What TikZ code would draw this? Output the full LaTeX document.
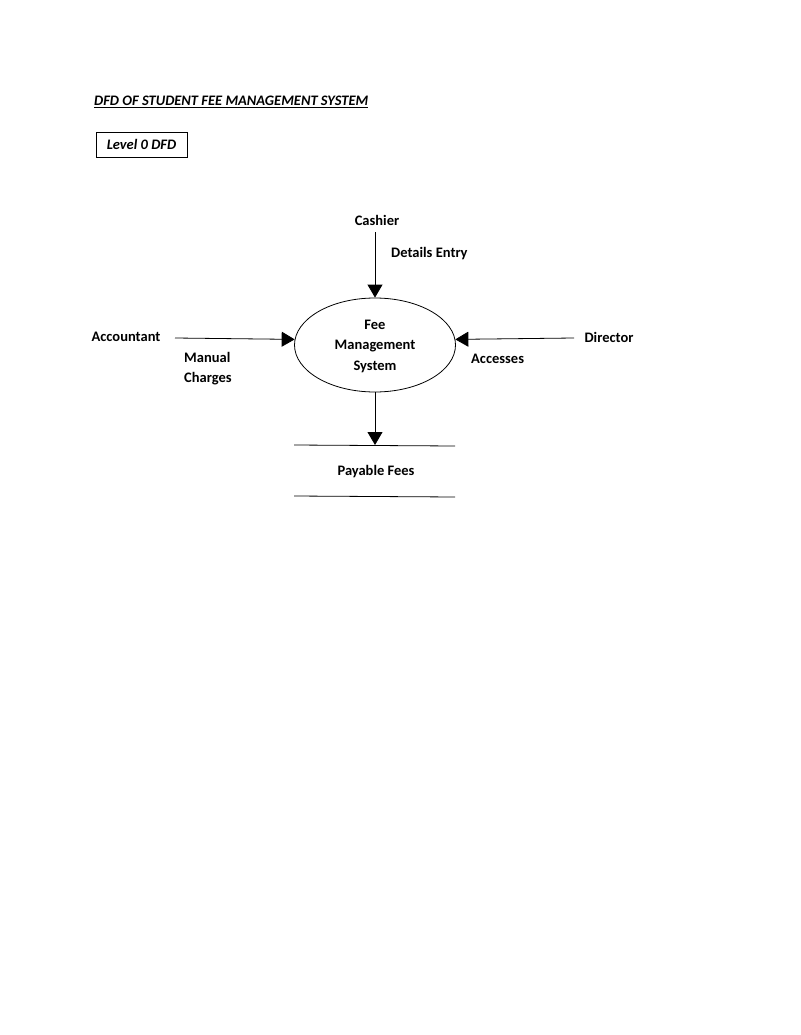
\documentclass[tikz,border=0pt]{standalone}
\usepackage{fontspec}
\setmainfont{Carlito}
\usetikzlibrary{arrows.meta,shapes.geometric}
\begin{document}
\begin{tikzpicture}[x=1pt,y=-1pt,
  lbl/.style={font=\fontsize{14.5}{17}\selectfont\bfseries, inner sep=0pt},
  flow/.style={draw, line width=0.8pt, -{Triangle[length=13pt,width=15pt]}},
  proc/.style={draw, ellipse, line width=0.8pt, minimum width=161pt, minimum height=94pt, inner sep=0pt}]
\useasboundingbox (0,0) rectangle (800,1035);
\node[lbl, font=\fontsize{14.5}{17}\selectfont\bfseries\itshape, anchor=west] (title) at (94,102) {\underline{DFD OF STUDENT FEE MANAGEMENT SYSTEM}};
\node[draw, line width=0.6pt, minimum width=91pt, minimum height=25pt, font=\fontsize{14.5}{17}\selectfont\bfseries\itshape] (lvl) at (141.5,144.5) {Level 0 DFD};
\node[proc] (fms) at (375,345) {};
\node[lbl, align=center, font=\fontsize{14.5}{20.5}\selectfont\bfseries] (fmst) at (375,346) {Fee\\Management\\System};
\node[lbl] (cash) at (377,220) {Cashier};
\node[lbl] (acc) at (126,337) {Accountant};
\node[lbl] (dir) at (609,337) {Director};
\node[lbl, anchor=west] (de) at (391,254) {Details Entry};
\node[lbl, align=left, anchor=north west, font=\fontsize{14.5}{20}\selectfont\bfseries] (mc) at (184,352) {Manual\\Charges};
\node[lbl, anchor=west] (accs) at (471,359) {Accesses};
\coordinate (cs) at (375,232);
\coordinate (as) at (175,338);
\coordinate (ds) at (574,338);
\coordinate (st) at (375,445);
\draw[flow] (cs) -- (fms.north);
\draw[flow] (as) -- (fms.176);
\draw[flow] (ds) -- (fms.4);
\draw[flow] (fms.south) -- (st);
\coordinate (s1a) at (294,445); \coordinate (s1b) at (455,446);
\coordinate (s2a) at (294,496); \coordinate (s2b) at (455,497);
\draw[line width=0.8pt] (s1a) -- (s1b);
\draw[line width=0.8pt] (s2a) -- (s2b);
\node[lbl] (pf) at (376,472) {Payable Fees};
\end{tikzpicture}
\end{document}
